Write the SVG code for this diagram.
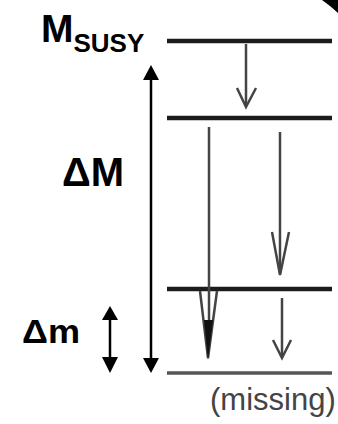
<svg xmlns="http://www.w3.org/2000/svg" width="338" height="424" viewBox="0 0 338 424">
<style>
.lvl{stroke:#1c1c1c;stroke-width:4.5;fill:none}
.lvl0{stroke:#555;stroke-width:3.5;fill:none}
.dec{stroke:#444;stroke-width:2.5;fill:none;stroke-linejoin:miter}
.blk{stroke:#000;stroke-width:2.5;fill:none}
.head{fill:#000}
.lab{font-family:"Liberation Sans",Arial,sans-serif;font-weight:bold;fill:#000}
</style>
<rect width="338" height="424" fill="#fff"/>
<polygon points="322,0 338,0 338,13 330,6" fill="#000"/>
<g id="level-susy"><line class="lvl" x1="167" y1="41" x2="332" y2="41"/>
<text class="lab" x="41" y="42" font-size="39">M<tspan font-size="26" dy="10">SUSY</tspan></text></g>
<g id="level-2"><line class="lvl" x1="167" y1="118" x2="332" y2="118"/></g>
<g id="level-3"><line class="lvl" x1="167" y1="289" x2="332" y2="289"/></g>
<g id="level-missing"><line class="lvl0" x1="167" y1="373" x2="332" y2="373"/>
<text x="210" y="410" font-family="Liberation Sans,Arial,sans-serif" font-size="31" fill="#444">(missing)</text></g>
<g id="label-dM"><text class="lab" x="62" y="186" font-size="40">ΔM</text></g>
<g id="label-dm"><text class="lab" x="22" y="343" font-size="33" textLength="58" lengthAdjust="spacingAndGlyphs">Δm</text></g>
<g id="connectors">
<line class="dec" x1="246" y1="44" x2="246" y2="106"/>
<polyline class="dec" points="237,88 246,107 256,88"/>
<line class="dec" x1="280" y1="132" x2="280" y2="273"/>
<polyline class="dec" points="272,232 280,275 289,232"/>
<line class="dec" x1="282" y1="298" x2="282" y2="356"/>
<polyline class="dec" points="273,340 282,358 291,340"/>
<line class="dec" x1="209" y1="127" x2="209" y2="340"/>
<polyline class="dec" stroke-width="3" points="200,291 208,358 217,291"/>
<polygon fill="#111" points="204,320 213,320 208,360"/>
<line class="blk" x1="151" y1="79" x2="151" y2="359"/>
<polygon class="head" points="151,65 143,80 159,80"/>
<polygon class="head" points="151,373 143,358 159,358"/>
<line class="blk" x1="110" y1="319" x2="110" y2="358"/>
<polygon class="head" points="110,306 102,320 118,320"/>
<polygon class="head" points="110,373 102,357 118,357"/>
</g>
</svg>
